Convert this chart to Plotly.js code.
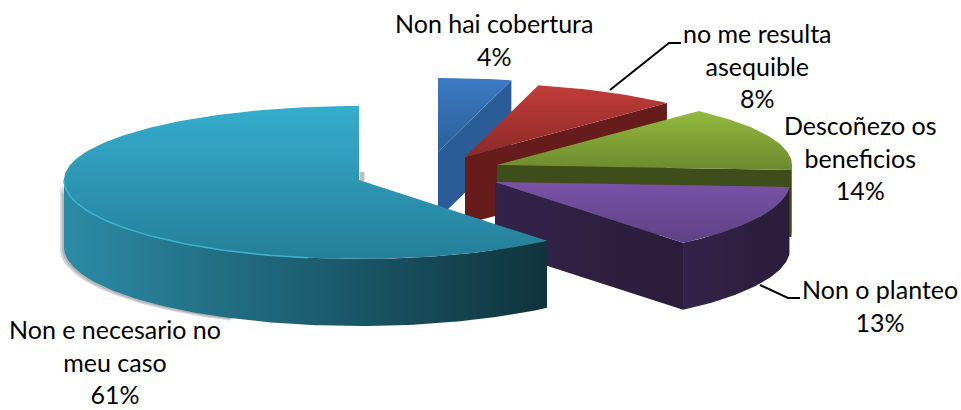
<!DOCTYPE html>
<html>
<head>
<meta charset="utf-8">
<script src="https://cdn.plot.ly/plotly-3.0.1.min.js"></script>
<style>html,body{margin:0;padding:0;background:#fff}#chart{width:961px;height:410px}</style>
</head>
<body>
<div id="chart"></div>
<script>
// Data, in clockwise slice order from 12 o'clock
var categories = ["Non hai cobertura", "no me resulta<br>asequible", "Descoñezo os<br>beneficios", "Non o planteo", "Non e necesario no<br>meu caso"];
var shares = [4, 8, 14, 13, 61];

// Presentation of each slice
var apexX = [438, 465, 497, 495, 359];
var apexY = [152, 157, 165, 182, 180];
var topColors = [["#2c6099", "#3c7ac2"], ["#8c2a28", "#c03c3a"], ["#6c8a2e", "#93b93f"], ["#5e4184", "#7a52a6"], ["#257f99", "#35adcd"]];
var wallColors = [["#2a5c98", "#2a5c98"], ["#651c1a", "#651c1a"], ["#3f4d1b", "#3f4d1b"], ["#33234a", "#2a1c3a"], ["#2b8ba6", "#0f333d"]];
var labelX = [494, 757, 860, 880, 115];
var labelY = [39, 65, 157, 305, 361];
var leaderX = [[610, 669, 681], [760, 788, 800]];
var leaderY = [[90, 43, 43], [285, 298, 298]];

var RX = 295, RY_BACK = 74, RY_FRONT = 79, DEPTH = 67;
var total = shares.reduce(function (a, b) { return a + b; }, 0);

function rim(i, deg) {
  var r = deg * Math.PI / 180, c = Math.cos(r);
  return [apexX[i] + RX * Math.sin(r), apexY[i] - (c > 0 ? RY_BACK : RY_FRONT) * c];
}
function poly(points, c1, c2, dir, name) {
  var xs = points.map(function (p) { return p[0]; });
  var ys = points.map(function (p) { return p[1]; });
  xs.push(xs[0]); ys.push(ys[0]);
  return {
    type: "scatter", mode: "lines", x: xs, y: ys, fill: "toself", name: name,
    line: { width: 0, color: c1 }, hoverinfo: "skip", showlegend: false,
    fillcolor: c1,
    fillgradient: { type: dir, colorscale: [[0, c1], [1, c2]] }
  };
}
function arc(i, a0, a1) {
  var out = [];
  for (var d = a0; d < a1; d += 1) out.push(rim(i, d));
  out.push(rim(i, a1));
  return out;
}
function drop(pts) { return pts.map(function (p) { return [p[0], p[1] + DEPTH]; }).reverse(); }
function shifted(pts, dx, dy) { return pts.map(function (p) { return [p[0] + dx, p[1] + dy]; }); }

var traces = [];
var start = 0;
shares.forEach(function (v, i) {
  var a0 = start, a1 = start + v / total * 360;
  start = a1;
  var name = categories[i].replace("<br>", " ");
  var apex = [apexX[i], apexY[i]];
  var w0 = Math.max(a0, 90), w1 = Math.min(a1, 270);
  // soft shadow, built from two faint layers
  if (i === 4 || i === 0) {
    var s = (i === 4) ? arc(i, 205, 268) : [apex, rim(i, a0)];
    var body = s.concat(drop(s));
    [[-2, 1], [-4, 2]].forEach(function (o) {
      traces.push(poly(shifted(body, o[0], o[1]), "rgba(110,110,110,0.3)", "rgba(110,110,110,0.3)", "none", name + " shadow"));
    });
  }
  if (i === 4) {
    traces.push({ type: "scatter", mode: "lines", x: [apex[0] + 3, apex[0] + 3], y: [apex[1] - 8, apex[1] + 1],
      line: { color: "rgba(110,110,110,0.45)", width: 5 }, hoverinfo: "skip", showlegend: false });
  }
  // outer wall
  if (w1 > w0) {
    var w = arc(i, w0, w1);
    traces.push(poly(w.concat(drop(w)), wallColors[i][0], wallColors[i][1], "horizontal", name + " wall"));
  }
  // radial face at the end edge of the slice
  if (i < 4) {
    var e = [apex, rim(i, a1)];
    traces.push(poly(e.concat(drop(e)), wallColors[i][0], i === 3 ? wallColors[i][1] : wallColors[i][0], "horizontal", name + " face"));
  }
  // top face
  traces.push(poly([apex].concat(arc(i, a0, a1)), topColors[i][0], topColors[i][1], "vertical", name));
  // rim highlight on the large slice
  if (i === 4) {
    var h = arc(i, 190, 270);
    traces.push({ type: "scatter", mode: "lines", x: h.map(function (p) { return p[0]; }), y: h.map(function (p) { return p[1]; }),
      line: { color: "#3db2d0", width: 1.5 }, hoverinfo: "skip", showlegend: false });
  }
});

leaderX.forEach(function (lx, k) {
  traces.push({ type: "scatter", mode: "lines", x: lx, y: leaderY[k], line: { color: "#000", width: 2 }, hoverinfo: "skip", showlegend: false });
});

var annotations = categories.map(function (c, i) {
  return { x: labelX[i], y: labelY[i], xref: "x", yref: "y", showarrow: false, align: "center",
    xanchor: "center", yanchor: "middle", text: c + "<br>" + shares[i] + "%",
    font: { family: "Lato, 'Open Sans', sans-serif", size: 25, color: "#000" } };
});

Plotly.newPlot("chart", traces, {
  width: 961, height: 410, margin: { l: 0, r: 0, t: 0, b: 0 },
  paper_bgcolor: "#fff", plot_bgcolor: "#fff", showlegend: false,
  xaxis: { range: [0, 961], visible: false, fixedrange: true },
  yaxis: { range: [410, 0], visible: false, fixedrange: true },
  annotations: annotations
}, { displayModeBar: false, staticPlot: true });
</script>
</body>
</html>
